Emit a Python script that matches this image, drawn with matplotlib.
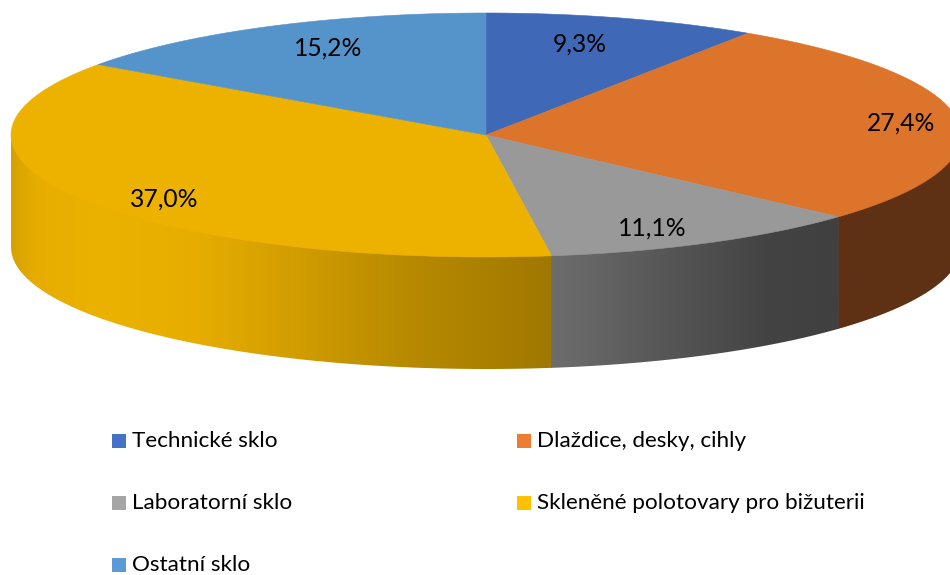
import numpy as np
import matplotlib
matplotlib.use('Agg')
import matplotlib.pyplot as plt
from matplotlib.colors import to_rgb
from matplotlib.patches import Polygon, Rectangle

categories = ['Technické sklo', 'Dlaždice, desky, cihly', 'Laboratorní sklo',
              'Skleněné polotovary pro bižuterii', 'Ostatní sklo']
shares = [9.3, 27.4, 11.1, 37.0, 15.2]
share_labels = ['9,3%', '27,4%', '11,1%', '37,0%', '15,2%']

top_colors = ['#3f69b6', '#dc742c', '#999999', '#edb200', '#5593cb']
legend_colors = ['#4472c4', '#ed7d31', '#a5a5a5', '#ffc000', '#5b9bd5']

# pie geometry in pixels
cx, cy = 486, 135
rx, ry = 475, 122
depth = 112

plt.rcParams['font.family'] = ['Lato', 'DejaVu Sans']

fig = plt.figure(figsize=(9.5, 5.75), dpi=100)
ax = fig.add_axes([0, 0, 1, 1])


def rim(a1, a2, n=200):
    # a is degrees clockwise from 12 o'clock
    t = np.radians(np.linspace(a1, a2, n))
    return cx + rx * np.sin(t), cy - ry * np.cos(t)


def side_wall(a1, a2, stops):
    x, y = rim(a1 - 0.05, a2 + 0.05)
    # top edge sits a bit under the lid so no seam shows
    pts = np.vstack([np.column_stack([x, y - 3]), np.column_stack([x[::-1], y[::-1] + depth])])
    x0, x1 = x.min(), x.max()
    xs = np.linspace(x0, x1, 512)
    stop_x = [s[0] for s in stops]
    stop_rgb = np.array([to_rgb(s[1]) for s in stops])
    grad = np.stack([np.interp(xs, stop_x, stop_rgb[:, k]) for k in range(3)], axis=-1)[None, :, :]
    im = ax.imshow(grad, extent=(x0, x1, y.max() + depth + 1, y.min() - 4),
                   aspect='auto', zorder=1)
    im.set_clip_path(Polygon(pts, closed=True, transform=ax.transData))


edges = np.cumsum([0] + shares) * 3.6
x_orange_grey = cx + rx * np.sin(np.radians(edges[2]))
x_grey_yellow = cx + rx * np.sin(np.radians(edges[3]))

# only the front half of the wall shows
side_wall(90, edges[2], [(x_orange_grey, '#5f3114'), (cx + rx, '#5f3114')])
side_wall(edges[3], 270, [(cx - rx, '#d6a200'), (35, '#e6ad00'), (100, '#ecb200'), (200, '#e6ad00'),
                          (300, '#d09c00'), (400, '#b98b00'), (x_grey_yellow, '#a07800')])
side_wall(edges[2], edges[3], [(x_grey_yellow, '#6d6d6d'), (700, '#505050'), (770, '#434343'),
                               (x_orange_grey, '#404040')])

for i, color in enumerate(top_colors):
    x, y = rim(edges[i], edges[i + 1])
    ax.fill(np.r_[cx, x], np.r_[cy, y], facecolor=color, edgecolor=color, lw=0.4, zorder=2)

label_pos = [(580, 44), (901, 123), (652, 228), (164, 199), (328, 48)]
for (lx, ly), txt in zip(label_pos, share_labels):
    ax.text(lx, ly, txt, fontsize=17.7, color='black', ha='center', va='center', zorder=3)

legend_pos = [(112, 441), (517, 441), (112, 503), (517, 503), (112, 565)]
for (lx, ly), name, color in zip(legend_pos, categories, legend_colors):
    ax.add_patch(Rectangle((lx, ly - 7), 14, 14, color=color, lw=0))
    ax.text(lx + 20, ly, name, fontsize=16.2, color='black', ha='left', va='center')

ax.set_xlim(0, 950)
ax.set_ylim(575, 0)
ax.axis('off')

fig.savefig('out.png', dpi=100)
